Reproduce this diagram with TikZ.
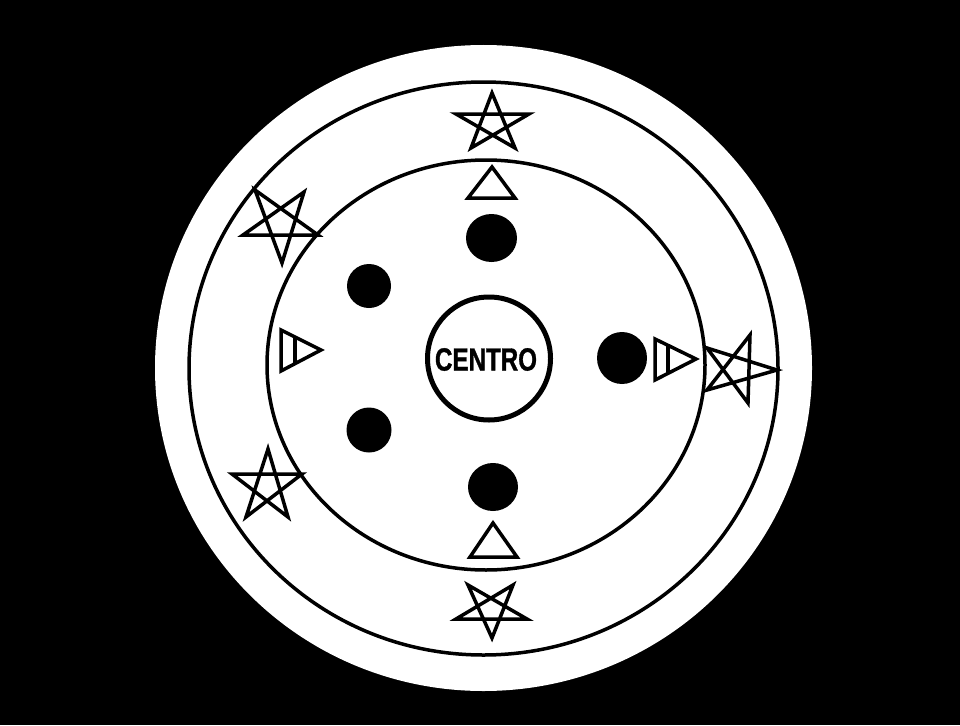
\documentclass[tikz,border=0pt]{standalone}
\usepackage{fontspec}
\setmainfont{Liberation Sans}
\usepackage{graphicx}
\tikzset{
  ring/.style={draw=black, line width=3.5pt},
  dot/.style={fill=black},
  shapeline/.style={draw=black, line width=3.5pt, line join=miter, miter limit=10},
  starline/.style={draw=black, line width=3.5pt, line join=miter, miter limit=4},
  label/.style={font=\bfseries\fontsize{32}{32}\selectfont, inner sep=0pt}
}
\begin{document}
\begin{tikzpicture}[x=1pt,y=-1pt]
\useasboundingbox (0,0) rectangle (960,725);
\fill[black] (0,0) rectangle (960,725);
% white disc
\fill[white] (483.5,368) ellipse [x radius=328.5, y radius=323];
% rings
\draw[ring] (483.5,368.5) ellipse [x radius=294.5, y radius=286.5];
\draw[ring] (486,365) ellipse [x radius=219, y radius=205];
% centre
\draw[draw=black, line width=5pt] (489,358.5) circle [radius=61.5];
\node[label] (centro) at (486,359.5) {\addfontfeatures{FakeBold=1.2}\scalebox{0.755}[1]{CENTRO}};
% dots
\fill[dot] (491.5,238) ellipse [x radius=25.5, y radius=24];
\fill[dot] (369,286) circle [radius=22];
\fill[dot] (369,430) circle [radius=22.5];
\fill[dot] (493,487) ellipse [x radius=25, y radius=24];
\fill[dot] (622,358) ellipse [x radius=25, y radius=26];
% triangles
\draw[shapeline] (492,167) -- (515,198) -- (468,198) -- cycle;
\draw[shapeline] (493,523) -- (517,557) -- (470,557) -- cycle;
\draw[shapeline] (281,330) -- (321,350) -- (281,371) -- cycle;
\draw[shapeline] (295,337) -- (295,363.6);
\draw[shapeline] (655,339) -- (696,359) -- (655,380) -- cycle;
\draw[shapeline] (668,345.3) -- (668,373.3);
% stars
\draw[starline] (492,93) -- (515,148) -- (456,114) -- (529,114) -- (471,148) -- cycle;
\draw[starline] (282,263) -- (255,190) -- (318,235) -- (243,235) -- (304,192) -- cycle;
\draw[starline] (268,449) -- (288,517) -- (232,474) -- (302,474) -- (246,517) -- cycle;
\draw[starline] (492,638) -- (468,585) -- (527,619) -- (456,619) -- (513,585) -- cycle;
\draw[starline] (777,370) -- (707,390) -- (750,335) -- (748,403) -- (707,348) -- cycle;
\end{tikzpicture}
\end{document}
